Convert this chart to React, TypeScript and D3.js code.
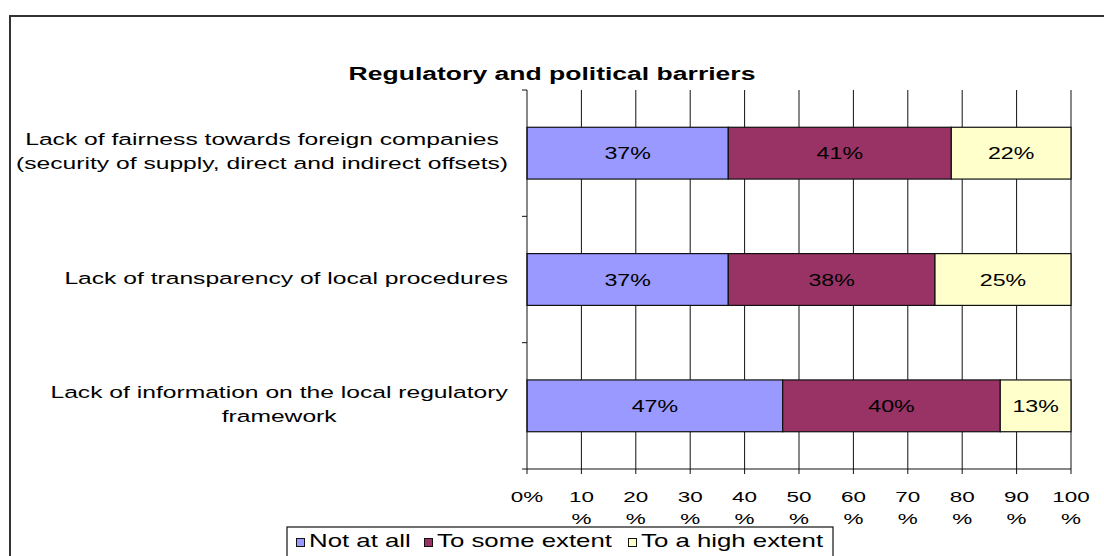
import React, { useLayoutEffect, useRef, useState } from "react";
import * as d3 from "d3";

const categories = [
  ["Lack of fairness towards foreign companies", "(security of supply, direct and indirect offsets)"],
  ["Lack of transparency of local procedures"],
  ["Lack of information on the local regulatory", "framework"],
];
const notAtAll = [37, 37, 47];
const someExtent = [41, 38, 40];
const highExtent = [22, 25, 13];
const seriesNames = ["Not at all", "To some extent", "To a high extent"];
const seriesColors = ["#9999FF", "#993366", "#FFFFCC"];
const xTicks = [0, 10, 20, 30, 40, 50, 60, 70, 80, 90, 100];

const SX = 1.45;
const FONT = "Arial, 'Liberation Sans', sans-serif";

function Stretch({ x, y, lines, size, anchor = "middle", weight = "normal", lh = 23, tref }: any) {
  return (
    <text
      ref={tref}
      transform={`translate(${x},${y}) scale(${SX},1)`}
      textAnchor={anchor}
      fontSize={size}
      fontWeight={weight}
      fontFamily={FONT}
      fill="#000"
    >
      {lines.map((l: string, i: number) => (
        <tspan key={i} x={0} dy={i === 0 ? 0 : lh}>
          {l}
        </tspan>
      ))}
    </text>
  );
}

export default function App() {
  const width = 1104;
  const height = 556;
  const margin = { top: 90, right: 33, bottom: 87, left: 527 };
  const labelRight = 508;

  const labelRefs = useRef<(SVGTextElement | null)[]>([]);
  const [labelWidths, setLabelWidths] = useState<number[]>(categories.map(() => 0));

  useLayoutEffect(() => {
    setLabelWidths(labelRefs.current.map((el) => (el ? el.getBBox().width * SX : 0)));
  }, []);

  const x = d3
    .scaleLinear()
    .domain([0, 100])
    .range([margin.left, width - margin.right]);

  const y = d3
    .scaleBand()
    .domain(categories.map((c, i) => String(i)))
    .range([margin.top, height - margin.bottom])
    .paddingInner(0.59)
    .paddingOuter(0.295);

  const series = [notAtAll, someExtent, highExtent];
  const step = y.step();
  const yBoundaries = d3.range(categories.length + 1).map((i) => margin.top + i * step);
  const bottom = height - margin.bottom;

  // legend item positions (square x), text follows square
  const legendX = [296, 424, 628];

  return (
    <svg
      width={width}
      height={height}
      style={{ position: "absolute", left: 0, top: 0, background: "#fff" }}
    >
      <rect x={10} y={16} width={1120} height={580} fill="#fff" stroke="#333" strokeWidth={2} />

      <Stretch x={552} y={80} lines={["Regulatory and political barriers"]} size={18.3} weight="bold" />

      {/* gridlines */}
      {xTicks.slice(1).map((t) => (
        <line key={t} x1={x(t)} x2={x(t)} y1={margin.top} y2={bottom} stroke="#111" strokeWidth={1} />
      ))}

      {/* bars */}
      {categories.map((c, i) => {
        let acc = 0;
        return series.map((s, j) => {
          const v = s[i];
          const x0 = x(acc);
          acc += v;
          const x1 = x(acc);
          const yy = y(String(i))!;
          return (
            <g key={`${i}-${j}`}>
              <rect
                x={x0}
                y={yy}
                width={x1 - x0}
                height={y.bandwidth()}
                fill={seriesColors[j]}
                stroke="#111"
                strokeWidth={1.2}
              />
              <Stretch x={(x0 + x1) / 2} y={yy + y.bandwidth() / 2 + 6} lines={[`${v}%`]} size={16} />
            </g>
          );
        });
      })}

      {/* axes */}
      <line x1={margin.left} x2={margin.left} y1={margin.top} y2={bottom} stroke="#111" />
      {yBoundaries.map((b, i) => (
        <line key={i} x1={margin.left - 5} x2={margin.left} y1={b} y2={b} stroke="#111" />
      ))}
      <line x1={margin.left} x2={x(100)} y1={bottom} y2={bottom} stroke="#111" />
      {xTicks.map((t) => (
        <line key={t} x1={x(t)} x2={x(t)} y1={bottom} y2={bottom + 5} stroke="#111" />
      ))}
      {xTicks.map((t) => (
        <Stretch
          key={t}
          x={x(t)}
          y={502}
          lines={t === 0 ? ["0%"] : [String(t), "%"]}
          size={15.5}
          lh={22}
        />
      ))}

      {/* category labels, centred lines inside a right-aligned block */}
      {categories.map((c, i) => {
        const cy = y(String(i))! + y.bandwidth() / 2;
        const lh = 24;
        const startY = cy + 4 - ((c.length - 1) * lh) / 2;
        return (
          <Stretch
            key={i}
            tref={(el: SVGTextElement | null) => (labelRefs.current[i] = el)}
            x={labelRight - labelWidths[i] / 2}
            y={startY}
            lines={c}
            size={17}
            lh={lh}
            anchor="middle"
          />
        );
      })}

      {/* legend */}
      <rect x={287} y={527} width={546} height={40} fill="#fff" stroke="#111" strokeWidth={1.2} />
      {seriesNames.map((n, i) => {
        const lx = legendX[i];
        return (
          <g key={n}>
            <rect x={lx + 0.5} y={538.5} width={8} height={8} fill={seriesColors[i]} stroke="#111" />
            <Stretch x={lx + 13} y={547} lines={[n]} size={17.8} anchor="start" />
          </g>
        );
      })}
    </svg>
  );
}
